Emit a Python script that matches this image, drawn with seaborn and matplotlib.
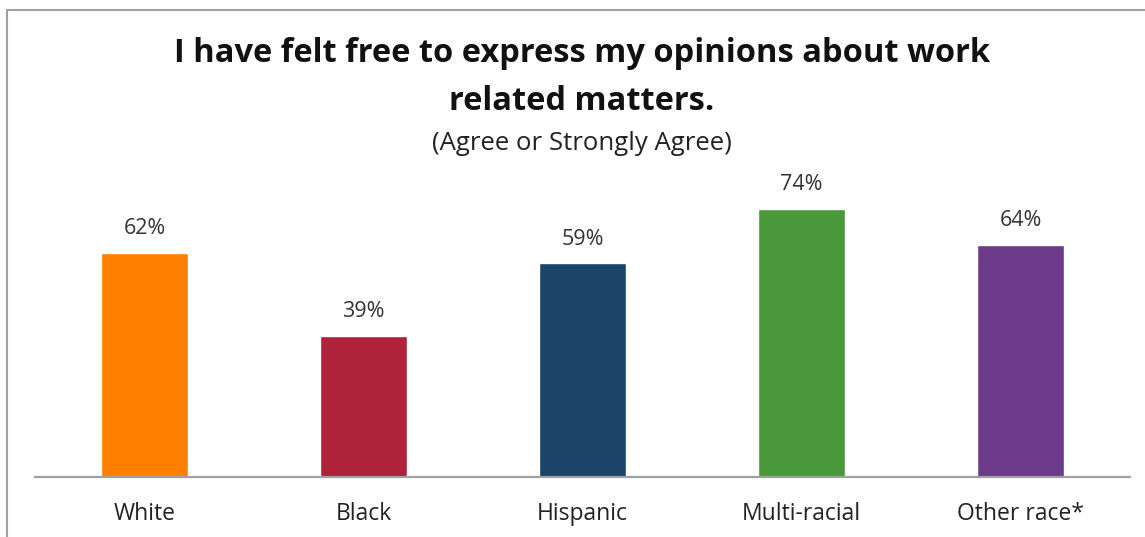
import matplotlib
matplotlib.use("Agg")
import matplotlib.pyplot as plt
import seaborn as sns
import pandas as pd
from matplotlib.lines import Line2D

categories = ["White", "Black", "Hispanic", "Multi-racial", "Other race*"]
values = [62, 39, 59, 74, 64]
value_labels = ["62%", "39%", "59%", "74%", "64%"]
colors = ["#FF8000", "#B0223A", "#1B4466", "#4A9A3C", "#6C3A88"]

sns.set_theme(style="white")
plt.rcParams['font.family'] = ['Open Sans', 'DejaVu Sans']

df = pd.DataFrame({"cat": categories, "val": values})

fig = plt.figure(figsize=(11.45, 5.37), dpi=100)
ax = fig.add_axes([35/1145, 1 - 477/537, 1095/1145, 85*3.62/537])

sns.barplot(data=df, x="cat", y="val", hue="cat", palette=colors,
            width=0.393, legend=False, ax=ax, saturation=1)

ax.set_ylim(0, 85)
ax.set_xlim(-0.5, 4.5)
ax.set_xlabel("")
ax.set_ylabel("")
ax.set_yticks([])
for s in ["top", "right", "left"]:
    ax.spines[s].set_visible(False)
ax.spines["bottom"].set_color("#A0A0A0")
ax.spines["bottom"].set_linewidth(1.6)
ax.tick_params(axis="x", length=0, pad=18, labelsize=16.5, labelcolor="#222222")

for i, (v, lab) in enumerate(zip(values, value_labels)):
    ax.annotate(lab, (i, v), xytext=(0, 10), textcoords="offset points",
                ha="center", va="bottom", fontsize=15.5, color="#333333")

fig.text(0.508, 1 - 54/537, "I have felt free to express my opinions about work",
         ha="center", va="center", fontsize=23.5, fontweight="bold", color="#111111")
fig.text(0.508, 1 - 102/537, "related matters.",
         ha="center", va="center", fontsize=23.5, fontweight="bold", color="#111111")
fig.text(0.508, 1 - 143/537, "(Agree or Strongly Agree)",
         ha="center", va="center", fontsize=18.5, color="#222222")

# frame border (top and left visible)
fig.add_artist(Line2D([7/1145, 1.0], [1 - 10/537, 1 - 10/537], color="#A0A0A0", lw=1.5,
                      transform=fig.transFigure))
fig.add_artist(Line2D([7/1145, 7/1145], [0.0, 1 - 10/537], color="#A0A0A0", lw=1.5,
                      transform=fig.transFigure))

fig.savefig("out.png", dpi=100)
